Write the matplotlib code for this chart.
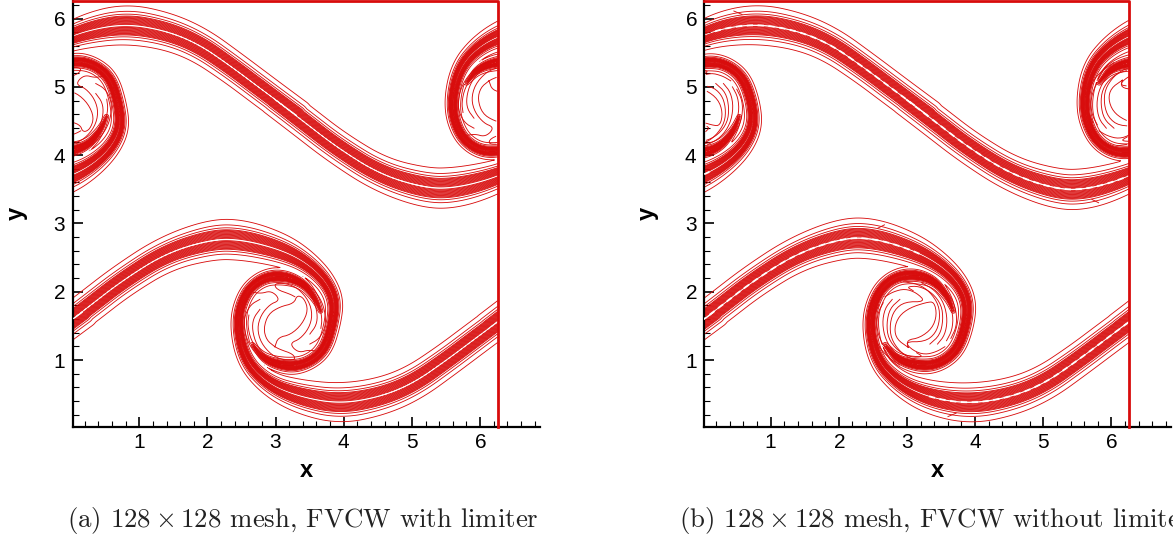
import numpy as np
import matplotlib
matplotlib.use("Agg")
import matplotlib.pyplot as plt
from matplotlib.ticker import MultipleLocator

plt.rcParams['mathtext.fontset'] = 'cm'
plt.rcParams['axes.formatter.use_mathtext'] = True

RED = "#d80c0c"
TWO_PI = 2 * np.pi

# shear layer centre lines (lower layer, upper layer is its mirror)
# columns: x, y, band width factor, contour value drop at the tips
arm_a_left = [(-0.15, 1.47, 0.78, 0), (0.23, 1.76, 0.78, 0), (0.76, 2.17, 0.78, 0), (1.40, 2.57, 0.82, 0),
              (2.08, 2.77, 0.95, 0), (2.52, 2.76, 0.95, 0), (3.06, 2.62, 0.8, 0), (3.43, 2.44, 0.6, 0),
              (3.72, 2.18, 0.48, 0), (3.87, 1.88, 0.42, 0), (3.84, 1.54, 0.38, 0), (3.72, 1.15, 0.38, 0),
              (3.47, 0.95, 0.38, 0), (3.18, 0.90, 0.42, 0), (2.84, 1.00, 0.3, 0.02), (2.66, 1.22, 0.22, 0.14)]
arm_b_left = [(6.45, 1.70, 0.78, 0), (6.26, 1.56, 0.78, 0), (5.95, 1.33, 0.78, 0), (5.51, 1.00, 0.78, 0),
              (5.02, 0.66, 0.82, 0), (4.53, 0.46, 0.88, 0), (3.94, 0.36, 0.95, 0), (3.36, 0.46, 0.8, 0),
              (2.89, 0.65, 0.55, 0), (2.55, 1.00, 0.42, 0), (2.43, 1.56, 0.36, 0), (2.55, 1.98, 0.36, 0),
              (2.80, 2.20, 0.38, 0), (3.09, 2.24, 0.42, 0), (3.39, 2.14, 0.32, 0.02), (3.58, 1.91, 0.24, 0.06),
              (3.66, 1.72, 0.2, 0.14)]
arm_a_right = [(-0.15, 1.47, 0.78, 0), (0.23, 1.76, 0.78, 0), (0.76, 2.17, 0.78, 0), (1.40, 2.57, 0.82, 0),
               (2.08, 2.79, 0.95, 0), (2.52, 2.78, 0.95, 0), (3.06, 2.62, 0.8, 0), (3.45, 2.42, 0.6, 0),
               (3.74, 2.16, 0.48, 0), (3.89, 1.86, 0.42, 0), (3.87, 1.52, 0.38, 0), (3.74, 1.15, 0.38, 0),
               (3.49, 0.95, 0.38, 0), (3.20, 0.91, 0.42, 0), (2.86, 1.00, 0.3, 0.02), (2.68, 1.22, 0.22, 0.14)]
arm_b_right = [(6.45, 1.70, 0.78, 0), (6.26, 1.56, 0.78, 0), (5.95, 1.33, 0.78, 0), (5.51, 1.00, 0.78, 0),
               (5.02, 0.66, 0.82, 0), (4.53, 0.46, 0.88, 0), (3.94, 0.36, 0.95, 0), (3.36, 0.44, 0.8, 0),
               (2.89, 0.65, 0.55, 0), (2.55, 1.00, 0.42, 0), (2.44, 1.56, 0.36, 0), (2.56, 1.98, 0.36, 0),
               (2.80, 2.21, 0.38, 0), (3.11, 2.26, 0.42, 0), (3.41, 2.16, 0.32, 0.02), (3.60, 1.92, 0.24, 0.06),
               (3.68, 1.72, 0.2, 0.14)]

# vortex core contours, in pixels of a 3x crop of the reference, half of them
# (the other half is the same turned 180 degrees round the vortex centre)
core_left = [
    [(85, 97), (110, 100), (135, 93), (155, 105), (162, 122), (135, 133), (108, 165), (97, 205),
     (108, 248), (140, 285), (175, 300), (212, 300), (205, 282), (165, 268), (150, 260)],
    [(105, 118), (78, 133), (60, 165), (57, 200), (68, 245), (95, 285), (130, 312), (160, 320)],
    [(72, 165), (68, 195), (78, 240), (105, 280), (140, 305), (170, 313)],
    [(105, 148), (85, 175), (82, 210), (95, 255), (125, 292), (165, 305)],
]
hole_left = [(150, 260), (160, 232), (197, 224), (232, 192), (250, 150), (238, 115), (217, 105), (207, 130),
             (165, 140), (130, 162), (116, 205), (125, 240), (150, 260)]
core_right = [
    [(90, 110), (115, 95), (150, 86), (185, 98), (212, 125), (150, 125), (118, 150), (105, 190),
     (108, 235), (135, 275), (170, 298), (215, 305)],
    [(72, 135), (55, 170), (55, 215), (70, 258), (100, 292), (135, 315)],
    [(85, 128), (68, 160), (65, 205), (80, 250), (110, 285), (150, 310)],
    [(112, 118), (90, 145), (82, 190), (92, 240), (120, 280), (160, 302)],
    [(135, 118), (105, 145), (95, 190), (100, 235), (128, 272), (168, 292), (205, 290), (185, 278)],
]
hole_right = [(160, 262), (156, 240), (195, 233), (232, 205), (246, 165), (238, 125), (214, 127), (165, 143),
              (132, 168), (118, 205), (126, 238), (160, 262)]

# small kinks on the outermost contour of panel (b)
spurs_right = [[(0.46, 6.11), (0.58, 6.06)], [(2.57, 2.93), (2.67, 2.98)]]

# distance of each contour from the centre line
sparse_levels = [0.31, 0.225, 0.18]
dense_levels = [0.150, 0.138, 0.126, 0.114, 0.102, 0.090, 0.078, 0.066, 0.054, 0.042, 0.030, 0.018]

x_ticks = [1, 2, 3, 4, 5, 6]
y_ticks = [1, 2, 3, 4, 5, 6]
captions = [r"(a) $128\times128$ mesh, FVCW with limiter",
            r"(b) $128\times128$ mesh, FVCW without limiter"]


def smooth(arm, n=4):
    p = np.array(arm, dtype=float)
    for i in range(n):
        q = 0.75 * p[:-1] + 0.25 * p[1:]
        r = 0.25 * p[:-1] + 0.75 * p[1:]
        s = np.empty((2 * len(q), p.shape[1]))
        s[0::2] = q
        s[1::2] = r
        p = np.vstack([p[0], s, p[-1]])
    return p


def add_segments(Z, gx, gy, p):
    reach = 0.36
    for a, b in zip(p[:-1], p[1:]):
        i0, i1 = np.searchsorted(gx, [min(a[0], b[0]) - reach, max(a[0], b[0]) + reach])
        j0, j1 = np.searchsorted(gy, [min(a[1], b[1]) - reach, max(a[1], b[1]) + reach])
        if i1 <= i0 or j1 <= j0:
            continue
        xx, yy = np.meshgrid(gx[i0:i1], gy[j0:j1])
        dx, dy = b[0] - a[0], b[1] - a[1]
        t = np.clip(((xx - a[0]) * dx + (yy - a[1]) * dy) / (dx * dx + dy * dy), 0, 1)
        d = np.hypot(xx - a[0] - t * dx, yy - a[1] - t * dy)
        val = -(d / (a[2] + t * (b[2] - a[2])) + a[3] + t * (b[3] - a[3]))
        Z[j0:j1, i0:i1] = np.maximum(Z[j0:j1, i0:i1], val)


def build_field(arms, gx, gy):
    Z = np.full((len(gy), len(gx)), -0.6)
    for arm in arms:
        p = smooth(arm)
        m = p.copy()
        m[:, 0] = p[:, 0] + np.pi
        m[:, 1] = TWO_PI - p[:, 1]
        for q in (p, m):
            for shift in [-TWO_PI, 0, TWO_PI]:
                s = q.copy()
                s[:, 0] += shift
                add_segments(Z, gx, gy, s)
    return Z


def draw_both_layers(ax, x, y, **kw):
    # lower layer, then its mirror image on both sides of the periodic boundary
    x = np.asarray(x, dtype=float)
    y = np.asarray(y, dtype=float)
    ax.plot(x, y, **kw)
    for shift in [np.pi, -np.pi]:
        xm = x + shift
        xm = np.where((xm > 6.26) | (xm < 0.0245), np.nan, xm)
        ax.plot(xm, TWO_PI - y, **kw)


def draw_dashes(ax, arm, stop, width, dash):
    p = smooth(arm)
    p = p[:int(len(p) * stop)]
    p = p[p[:, 0] < 6.26]
    draw_both_layers(ax, p[:, 0], p[:, 1], color="white", lw=width, ls=(0, dash), zorder=3)


def draw_core(ax, lines, hole, crop_x0, x_origin):
    cx, cy = 180.0, 185.0
    for line in lines + [hole]:
        p = smooth(line, 2)
        for sign in ([1, -1] if line is not hole else [1]):
            zx = cx + sign * (p[:, 0] - cx)
            zy = cy + sign * (p[:, 1] - cy)
            x = (crop_x0 + zx / 3 - x_origin) / 68.2
            y = (428.3 - 260 - zy / 3) / 68.3
            draw_both_layers(ax, x, y, color=RED, lw=0.65, zorder=2)


gx = np.linspace(0.0245, 6.26, 520)
gy = np.linspace(0.0245, 6.26, 520)

fig = plt.figure(figsize=(11.73, 5.39), dpi=100)
W, H = 1173.0, 539.0
lefts = [72.8, 704.2]
rights = [540.0, 1171.4]
caption_x = [67, 679]

panels = [(arm_a_left, arm_b_left), (arm_a_right, arm_b_right)]
for i in range(2):
    ax = fig.add_axes([lefts[i] / W, (H - 426.7) / H, (rights[i] - lefts[i]) / W, (426.7 - 0.8) / H])
    Z = build_field(panels[i], gx, gy)
    levels = sorted(-np.array(sparse_levels + dense_levels))
    ax.contour(gx, gy, Z, levels=levels, colors=RED, linewidths=0.62, linestyles='solid')
    if i == 0:
        draw_core(ax, core_left, hole_left, 225, 71.1)
        draw_dashes(ax, panels[i][0], 0.30, 0.7, (3, 2))
        draw_dashes(ax, panels[i][1], 0.33, 0.7, (3, 2))
    else:
        draw_core(ax, core_right, hole_right, 855, 702.5)
        draw_dashes(ax, panels[i][0], 0.44, 1.3, (3.5, 2.5))
        draw_dashes(ax, panels[i][1], 0.45, 1.3, (3.5, 2.5))
        for spur in spurs_right:
            sx, sy = zip(*spur)
            draw_both_layers(ax, sx, sy, color=RED, lw=0.65, zorder=2)
    # domain boundary
    ax.plot([0.0245, 6.26, 6.26], [6.26, 6.26, 0.0245], color=RED, lw=2.0, clip_on=False, zorder=4)
    ax.set_xlim(0.0245, 6.88)
    ax.set_ylim(0.0245, 6.26)
    ax.spines['top'].set_visible(False)
    ax.spines['right'].set_visible(False)
    ax.spines['left'].set_linewidth(1.6)
    ax.spines['bottom'].set_linewidth(1.6)
    ax.set_xticks(x_ticks)
    ax.set_yticks(y_ticks)
    ax.xaxis.set_minor_locator(MultipleLocator(0.2))
    ax.yaxis.set_minor_locator(MultipleLocator(0.2))
    ax.tick_params(which='major', direction='in', length=7.5, width=1.2, pad=5)
    ax.tick_params(axis='x', which='major', pad=4.5)
    ax.tick_params(which='minor', direction='in', length=4, width=0.8)
    for lab in ax.get_xticklabels() + ax.get_yticklabels():
        lab.set_family('Liberation Sans')
        lab.set_fontsize(15)
    ax.set_xlabel("x", family='Liberation Sans', fontweight='bold', fontsize=17, labelpad=5)
    ax.set_ylabel("y", family='Liberation Sans', fontweight='bold', fontsize=17, labelpad=18)
    fig.text(caption_x[i] / W, (H - 527) / H, captions[i], family='cmr10', fontsize=19.3,
             ha='left', va='baseline', color="#222222")

plt.savefig("out.png", dpi=100)
plt.close()
